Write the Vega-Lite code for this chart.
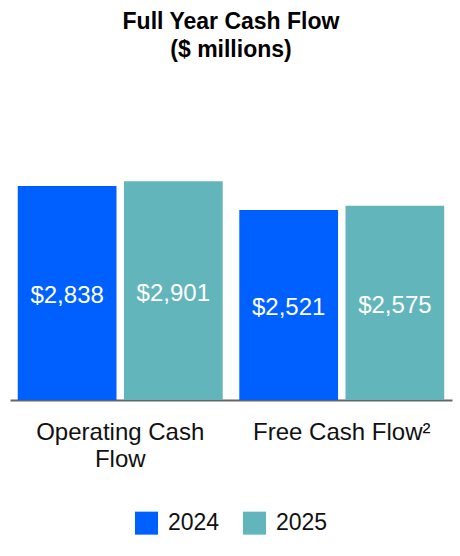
{
  "$schema": "https://vega.github.io/schema/vega-lite/v6.json",
  "width": 442,
  "height": 301.6,
  "autosize": "none",
  "padding": {"left": 10, "top": 98.4, "right": 8, "bottom": 156},
  "background": "white",
  "title": {
    "text": ["Full Year Cash Flow", "($ millions)"],
    "font": "Liberation Sans",
    "fontSize": 23,
    "fontWeight": "bold",
    "color": "#000000",
    "lineHeight": 28,
    "anchor": "middle",
    "offset": 36
  },
  "data": {
    "values": [
      {"category": "Operating Cash Flow", "year": "2024", "value": 2838},
      {"category": "Operating Cash Flow", "year": "2025", "value": 2901},
      {"category": "Free Cash Flow²", "year": "2024", "value": 2521},
      {"category": "Free Cash Flow²", "year": "2025", "value": 2575}
    ]
  },
  "encoding": {
    "x": {
      "field": "category",
      "type": "nominal",
      "sort": null,
      "scale": {"paddingInner": 0.075, "paddingOuter": 0.035},
      "axis": {
        "title": null,
        "labelAngle": 0,
        "ticks": false,
        "labelFont": "Liberation Sans",
        "labelFontSize": 24,
        "labelColor": "#111111",
        "labelPadding": 20,
        "labelLineHeight": 27,
        "labelBaseline": "top",
        "labelExpr": "datum.value == 'Operating Cash Flow' ? ['Operating Cash', 'Flow'] : datum.value",
        "domainColor": "#666666",
        "domainWidth": 2,
        "grid": false
      }
    },
    "xOffset": {"field": "year", "type": "nominal", "scale": {"paddingInner": 0.07}},
    "y": {
      "field": "value",
      "type": "quantitative",
      "scale": {"domain": [0, 4000]},
      "axis": null
    }
  },
  "layer": [
    {
      "mark": {"type": "bar"},
      "encoding": {
        "color": {
          "field": "year",
          "type": "nominal",
          "scale": {"domain": ["2024", "2025"], "range": ["#0060FF", "#62B5BA"]},
          "legend": {
            "title": null,
            "orient": "bottom",
            "direction": "horizontal",
            "symbolType": "square",
            "symbolSize": 529,
            "symbolStrokeWidth": 0,
            "symbolOpacity": 1,
            "labelFont": "Liberation Sans",
            "labelFontSize": 23,
            "labelColor": "#111111",
            "labelOffset": 10,
            "columnPadding": 23,
            "offset": 40
          }
        }
      }
    },
    {
      "mark": {
        "type": "text",
        "color": "#ffffff",
        "font": "Liberation Sans",
        "fontSize": 24,
        "baseline": "middle",
        "dy": {"expr": "(scale('y', 0) - scale('y', datum.value)) / 2 + 3"}
      },
      "encoding": {
        "text": {"field": "value", "type": "quantitative", "format": "$,.0f"}
      }
    }
  ],
  "config": {
    "view": {"stroke": null},
    "legend": {"layout": {"anchor": "middle"}}
  }
}
